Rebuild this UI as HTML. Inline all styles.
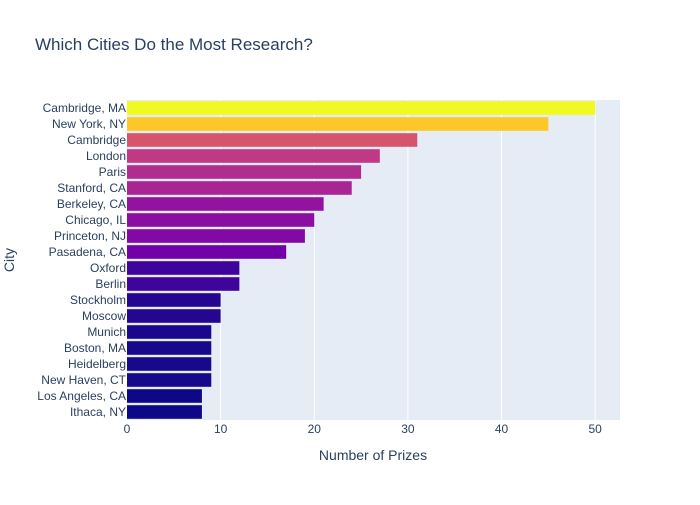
<!DOCTYPE html>
<html><head><meta charset="utf-8"><style>
body{margin:0;background:#fff;font-family:"Liberation Sans",Arial,sans-serif}
svg text{font-family:"Liberation Sans",Arial,sans-serif;fill:#2a3f5f}
</style></head><body>
<svg id="c" width="700" height="500"></svg>
<script>
const cities=["Cambridge, MA","New York, NY","Cambridge","London","Paris","Stanford, CA","Berkeley, CA","Chicago, IL","Princeton, NJ","Pasadena, CA","Oxford","Berlin","Stockholm","Moscow","Munich","Boston, MA","Heidelberg","New Haven, CT","Los Angeles, CA","Ithaca, NY"];
const prizes=[50,45,31,27,25,24,21,20,19,17,12,12,10,10,9,9,9,9,8,8];
const xTicks=[0,10,20,30,40,50];
const plasma=["#0d0887","#46039f","#7201a8","#9c179e","#bd3786","#d8576b","#ed7953","#fb9f3a","#fdca26","#f0f921"];
const svg=document.getElementById('c');const NS="http://www.w3.org/2000/svg";
function mk(t,a,p){const e=document.createElementNS(NS,t);for(const k in a)e.setAttribute(k,a[k]);(p||svg).appendChild(e);return e;}
const L=127,R=620,T=100,B=420,xmax=52.65;
const x=v=>L+v/xmax*(R-L);
const band=(B-T)/cities.length;
const y=i=>T+i*band;
function col(v){const mn=Math.min(...prizes),mx=Math.max(...prizes);let t=(v-mn)/(mx-mn)*(plasma.length-1);const i=Math.min(Math.floor(t),plasma.length-2);const f=t-i;
const a=plasma[i],b=plasma[i+1];const c=[1,3,5].map(k=>Math.round(parseInt(a.substr(k,2),16)*(1-f)+parseInt(b.substr(k,2),16)*f));return `rgb(${c})`;}
let e=mk('rect',{x:L,y:T,width:R-L,height:B-T,fill:'#e5ecf6'});

xTicks.forEach(t=>{if(t>0){let g=mk('line',{x1:x(t),x2:x(t),y1:T,y2:B,stroke:'#fff','stroke-width':1});
}
let tx=mk('text',{x:x(t),y:433,'text-anchor':'middle','font-size':12});tx.textContent=t;
});
cities.forEach((c,i)=>{const h=band*0.85;
let r=mk('rect',{x:L,y:y(i)+(band-h)/2,width:x(prizes[i])-L,height:h,fill:col(prizes[i])});

let t=mk('text',{x:L-1,y:y(i)+band/2+4,'text-anchor':'end','font-size':12});t.textContent=c;
});
let ti=mk('text',{x:35,y:50,'font-size':17});ti.textContent="Which Cities Do the Most Research?";

let xt=mk('text',{x:373,y:460,'text-anchor':'middle','font-size':14});xt.textContent="Number of Prizes";

let yt=mk('text',{x:14,y:260,'text-anchor':'middle','font-size':14,transform:'rotate(-90 14 260)'});yt.textContent="City";

</script></body></html>
